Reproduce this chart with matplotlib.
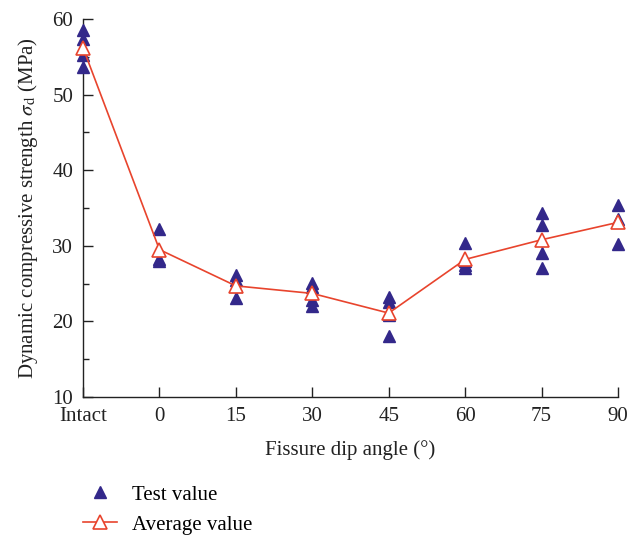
import matplotlib
matplotlib.use("Agg")
import matplotlib.pyplot as plt
from matplotlib.lines import Line2D
from matplotlib.ticker import MultipleLocator

plt.rcParams['font.family'] = ['Liberation Serif', 'DejaVu Serif']
plt.rcParams['mathtext.fontset'] = 'stix'

categories = ["Intact", "0", "15", "30", "45", "60", "75", "90"]
test_values = [
    [58.6, 57.4, 55.3, 53.7],
    [32.2, 28.2, 28.0],
    [26.2, 25.5, 24.7, 23.1],
    [25.1, 24.6, 22.8, 22.0],
    [23.2, 22.6, 20.8, 18.1],
    [30.4, 28.0, 27.5, 27.0],
    [34.3, 32.7, 29.0, 27.1],
    [35.4, 33.6, 30.3],
]
average_values = [56.2, 29.5, 24.7, 23.7, 21.1, 28.2, 30.8, 33.1]

blue = "#33288a"
red = "#e8442d"
fs = 15

fig = plt.figure(figsize=(6.39, 5.35), dpi=100)
ax = fig.add_axes([83/639, 1-397/535, (618-83)/639, (397-19)/535])

xs_t, ys_t = [], []
for i, vals in enumerate(test_values):
    for v in vals:
        xs_t.append(i)
        ys_t.append(v)
ax.plot(xs_t, ys_t, linestyle='none', marker='^', markersize=8.5,
        color=blue, markeredgecolor=blue, clip_on=False, zorder=3)
ax.plot(range(len(categories)), average_values, color=red, linewidth=1.2,
        marker='^', markersize=9.5, markerfacecolor='white',
        markeredgecolor=red, markeredgewidth=1.2, clip_on=False, zorder=4)

ax.set_xlim(0, len(categories) - 1)
ax.set_ylim(10, 60)
ax.set_xticks(range(len(categories)))
ax.set_xticklabels(categories)
ax.yaxis.set_major_locator(MultipleLocator(10))
ax.yaxis.set_minor_locator(MultipleLocator(5))

for s in ['top', 'right']:
    ax.spines[s].set_visible(False)
for s in ['left', 'bottom']:
    ax.spines[s].set_linewidth(1.0)
    ax.spines[s].set_color('#222222')

ax.tick_params(axis='both', which='major', direction='in', length=7,
               width=1.0, labelsize=fs, colors='#222222')
ax.tick_params(axis='y', which='minor', direction='in', length=4, width=1.0,
               colors='#222222')
ax.tick_params(axis='y', which='major', pad=7)
ax.tick_params(axis='x', which='major', pad=7.5)

ax.set_xlabel("Fissure dip angle (°)", fontsize=fs, color='#222222', labelpad=10)
ax.set_ylabel(r"Dynamic compressive strength $\sigma_{\mathrm{d}}$ (MPa)",
              fontsize=fs, color='#222222', labelpad=9)

handles = [
    Line2D([], [], linestyle='none', marker='^', markersize=8.5, color=blue),
    Line2D([], [], color=red, linewidth=1.2, marker='^', markersize=9.5,
           markerfacecolor='white', markeredgecolor=red, markeredgewidth=1.2),
]
fig.legend(handles, ["Test value", "Average value"], loc='upper left',
           bbox_to_anchor=(83/639, 1-485/535), frameon=False, fontsize=fs,
           handlelength=1.63, labelspacing=0.5, handletextpad=0.72,
           borderaxespad=0, borderpad=0)

fig.savefig("out.png", dpi=100)
